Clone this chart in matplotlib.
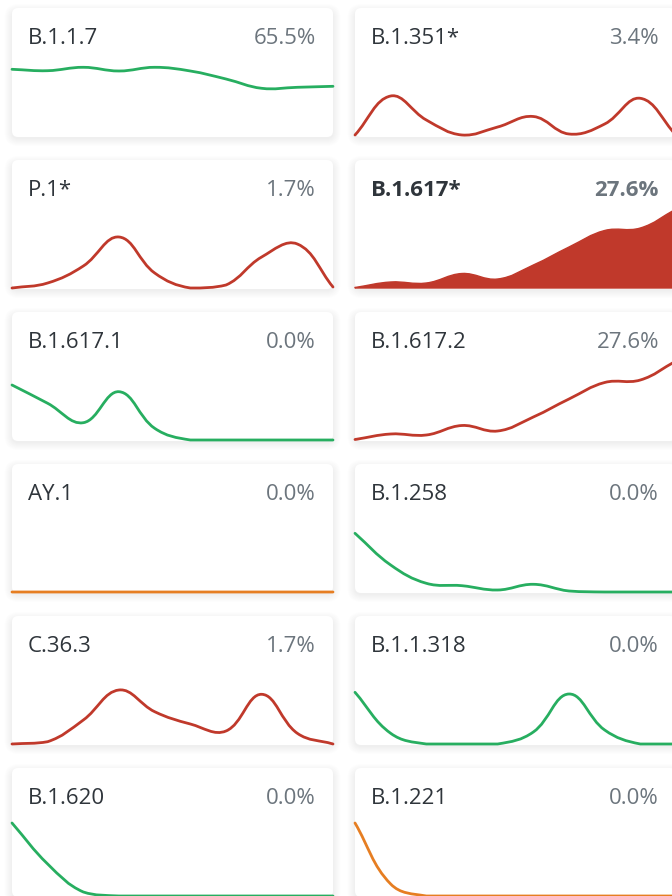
import matplotlib
matplotlib.use("Agg")
import matplotlib.pyplot as plt
from matplotlib.patches import FancyBboxPatch, PathPatch
from matplotlib.path import Path
import numpy as np

# ---------------- data ----------------
names = ["B.1.1.7", "B.1.351*", "P.1*", "B.1.617*", "B.1.617.1", "B.1.617.2",
         "AY.1", "B.1.258", "C.36.3", "B.1.1.318", "B.1.620", "B.1.221"]
shares = ["65.5%", "3.4%", "1.7%", "27.6%", "0.0%", "27.6%",
          "0.0%", "0.0%", "1.7%", "0.0%", "0.0%", "0.0%"]
trend = ["green", "red", "red", "red", "green", "red",
         "orange", "green", "red", "green", "green", "orange"]
highlighted = ["B.1.617*"]

weeks = list(range(10))
s_b117 = [66.7, 65.3, 68.7, 65.0, 68.7, 65.0, 57.0, 47.7, 48.7, 49.7]
s_b1351 = [1.0, 40.0, 16.0, 1.0, 9.0, 19.5, 2.0, 12.0, 37.7, 1.0]
s_p1 = [0.0, 5.0, 22.0, 51.0, 15.0, 0.0, 3.0, 31.0, 44.0, 1.0]
s_b1617 = [0.5, 6.0, 5.0, 14.5, 9.0, 23.0, 41.0, 57.5, 60.0, 79.0]
s_b16171 = [55.0, 36.7, 17.3, 48.3, 11.7, 0.0, 0.0, 0.0, 0.0, 0.0]
s_b16172 = [0.5, 6.0, 5.0, 14.5, 9.0, 23.0, 41.0, 57.5, 60.0, 79.0]
s_ay1 = [0.0, 0.0, 0.0, 0.0, 0.0, 0.0, 0.0, 0.0, 0.0, 0.0]
s_b1258 = [58.7, 27.0, 8.7, 6.3, 2.0, 7.7, 1.0, 0.0, 0.0, 0.0]
s_c363 = [0.0, 2.3, 24.0, 54.0, 32.3, 20.0, 13.0, 49.7, 10.7, 0.0]
s_b11318 = [51.7, 10.7, 0.0, 0.0, 0.0, 12.0, 50.0, 14.0, 0.0, 0.0]
s_b1620 = [73.0, 32.0, 4.0, 0.0, 0.0, 0.0, 0.0, 0.0, 0.0, 0.0]
s_b1221 = [73.0, 12.0, 0.0, 0.0, 0.0, 0.0, 0.0, 0.0, 0.0, 0.0]

series = [s_b117, s_b1351, s_p1, s_b1617, s_b16171, s_b16172,
          s_ay1, s_b1258, s_c363, s_b11318, s_b1620, s_b1221]

palette = {"green": "#27ae60", "red": "#c0392b", "orange": "#e67e22"}

# ---------------- layout ----------------
W, H = 672, 896
fig = plt.figure(figsize=(W / 100, H / 100), dpi=100)
fig.patch.set_facecolor("white")
bg = fig.add_axes([0, 0, 1, 1])
bg.set_xlim(0, W)
bg.set_ylim(H, 0)
bg.axis("off")

card_w, card_h = 321, 129
col_x = [12, 355]
row_top0, row_pitch = 8, 152
chart_h = 80
plt.rcParams["font.family"] = ["Open Sans", "DejaVu Sans"]


def spline_path(x, y, xscale, tension=0.4, ymax=None):
    """Cardinal spline (Chart.js style) as cubic Bezier, control points capped to [0, ymax]."""
    x = np.asarray(x, float)
    y = np.asarray(y, float)
    n = len(x)
    cps = []
    for i in range(n):
        p = (x[max(i - 1, 0)], y[max(i - 1, 0)])
        c = (x[i], y[i])
        nx = (x[min(i + 1, n - 1)], y[min(i + 1, n - 1)])
        d01 = np.hypot((c[0] - p[0]) * xscale, c[1] - p[1])
        d12 = np.hypot((nx[0] - c[0]) * xscale, nx[1] - c[1])
        tot = d01 + d12
        s01 = d01 / tot if tot else 0
        s12 = d12 / tot if tot else 0
        fa, fb = tension * s01, tension * s12
        prev_cp = (c[0] - fa * (nx[0] - p[0]), c[1] - fa * (nx[1] - p[1]))
        next_cp = (c[0] + fb * (nx[0] - p[0]), c[1] + fb * (nx[1] - p[1]))
        def cap(pt):
            yy = max(0.0, pt[1])
            if ymax is not None:
                yy = min(ymax, yy)
            return (min(max(pt[0], x[0]), x[-1]), yy)
        cps.append((cap(prev_cp), cap(next_cp)))
    verts = [(x[0], y[0])]
    codes = [Path.MOVETO]
    for i in range(n - 1):
        verts += [cps[i][1], cps[i + 1][0], (x[i + 1], y[i + 1])]
        codes += [Path.CURVE4] * 3
    return verts, codes


xscale = card_w / (len(weeks) - 1)

for k, (name, share, col, vals) in enumerate(zip(names, shares, trend, series)):
    r, c = divmod(k, 2)
    x0 = col_x[c]
    top = row_top0 + r * row_pitch
    # shadow
    for j in range(8):
        p = 1 + j
        bg.add_patch(FancyBboxPatch((x0 - p + 0.5, top - p + 4), card_w + 2 * p - 1, card_h + 2 * p - 3,
                                    boxstyle=f"round,pad=0,rounding_size={6 + p}",
                                    fc="black", ec="none", alpha=0.009, zorder=1))
    bg.add_patch(FancyBboxPatch((x0, top), card_w, card_h,
                                boxstyle="round,pad=0,rounding_size=6",
                                fc="white", ec="none", zorder=2))
    bold = name in highlighted
    bg.text(x0 + 16, top + 36, name, fontsize=16, color="#2f353b",
            fontweight="bold" if bold else "normal", va="baseline", ha="left", zorder=3)
    bg.text(x0 + card_w - 17, top + 36, share, fontsize=16, color="#6c757d",
            fontweight="bold" if bold else "normal", va="baseline", ha="right", zorder=3)

    base = top + 128
    ax = fig.add_axes([x0 / W, 1 - base / H, card_w / W, chart_h / H])
    ax.set_xlim(weeks[0], weeks[-1])
    ax.set_ylim(0, chart_h)
    ax.axis("off")
    ax.patch.set_alpha(0)
    verts, codes = spline_path(weeks, vals, xscale, 0.4, chart_h)
    color = palette[col]
    if bold:
        fverts = verts + [(weeks[-1], 0), (weeks[0], 0), (weeks[0], vals[0])]
        fcodes = codes + [Path.LINETO, Path.LINETO, Path.CLOSEPOLY]
        ax.add_patch(PathPatch(Path(fverts, fcodes), fc=color, ec=color, lw=1.0, clip_on=False))
    else:
        ax.add_patch(PathPatch(Path(verts, codes), fc="none", ec=color, lw=2.0,
                               capstyle="round", joinstyle="round", clip_on=False))

fig.savefig("out.png", dpi=100, facecolor="white")
